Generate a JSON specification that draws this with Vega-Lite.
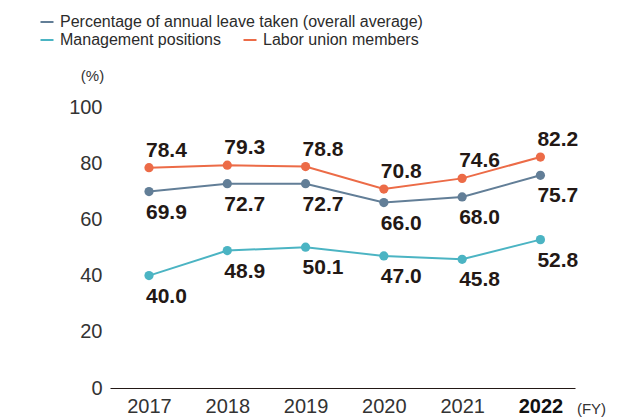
{
  "$schema": "https://vega.github.io/schema/vega-lite/v6.json",
  "autosize": "none",
  "padding": {"left": 110, "top": 107, "right": 51, "bottom": 30},
  "width": 465,
  "height": 281,
  "data": {
    "values": [
      {"year": "2017", "series": "Percentage of annual leave taken (overall average)", "value": 69.9},
      {"year": "2018", "series": "Percentage of annual leave taken (overall average)", "value": 72.7},
      {"year": "2019", "series": "Percentage of annual leave taken (overall average)", "value": 72.7},
      {"year": "2020", "series": "Percentage of annual leave taken (overall average)", "value": 66.0},
      {"year": "2021", "series": "Percentage of annual leave taken (overall average)", "value": 68.0},
      {"year": "2022", "series": "Percentage of annual leave taken (overall average)", "value": 75.7},
      {"year": "2017", "series": "Management positions", "value": 40.0},
      {"year": "2018", "series": "Management positions", "value": 48.9},
      {"year": "2019", "series": "Management positions", "value": 50.1},
      {"year": "2020", "series": "Management positions", "value": 47.0},
      {"year": "2021", "series": "Management positions", "value": 45.8},
      {"year": "2022", "series": "Management positions", "value": 52.8},
      {"year": "2017", "series": "Labor union members", "value": 78.4},
      {"year": "2018", "series": "Labor union members", "value": 79.3},
      {"year": "2019", "series": "Labor union members", "value": 78.8},
      {"year": "2020", "series": "Labor union members", "value": 70.8},
      {"year": "2021", "series": "Labor union members", "value": 74.6},
      {"year": "2022", "series": "Labor union members", "value": 82.2}
    ]
  },
  "encoding": {
    "x": {
      "field": "year",
      "type": "ordinal",
      "scale": {"type": "point", "padding": 0.47, "align": 0.53},
      "axis": {
        "labelAngle": 0,
        "ticks": false,
        "grid": false,
        "domain": true,
        "domainColor": "#231815",
        "domainWidth": 1.2,
        "labelFontSize": 20,
        "labelPadding": 8,
        "labelColor": {"condition": {"test": "datum.value == '2022'", "value": "#111111"}, "value": "#333333"},
        "labelFontWeight": {"condition": {"test": "datum.value == '2022'", "value": "bold"}, "value": "normal"},
        "title": "(FY)",
        "titleX": 481,
        "titleY": 20,
        "titleAlign": "center",
        "titleBaseline": "middle",
        "titleFontSize": 15,
        "titleFontWeight": "normal",
        "titleColor": "#333333"
      }
    },
    "y": {
      "field": "value",
      "type": "quantitative",
      "scale": {"domain": [0, 100]},
      "axis": {
        "values": [0, 20, 40, 60, 80, 100],
        "domain": false,
        "ticks": false,
        "grid": false,
        "labelFontSize": 20,
        "labelPadding": 8,
        "labelColor": "#333333",
        "title": "(%)",
        "titleAngle": 0,
        "titleX": -18,
        "titleY": -32,
        "titleAlign": "center",
        "titleBaseline": "middle",
        "titleFontSize": 15,
        "titleFontWeight": "normal",
        "titleColor": "#333333"
      }
    }
  },
  "layer": [
    {
      "transform": [{"filter": "datum.series === 'Percentage of annual leave taken (overall average)'"}],
      "encoding": {
        "color": {
          "field": "series",
          "type": "nominal",
          "scale": {"domain": ["Percentage of annual leave taken (overall average)"], "range": ["#627E97"]},
          "legend": {"orient": "none", "legendX": -71, "legendY": -93}
        }
      },
      "layer": [
        {"mark": {"type": "line", "strokeWidth": 2}},
        {"mark": {"type": "point", "filled": true, "size": 85, "opacity": 1}}
      ]
    },
    {
      "transform": [{"filter": "datum.series !== 'Percentage of annual leave taken (overall average)'"}],
      "encoding": {
        "color": {
          "field": "series",
          "type": "nominal",
          "scale": {"domain": ["Management positions", "Labor union members"], "range": ["#4BB4C3", "#EC6B47"]},
          "legend": {"orient": "none", "direction": "horizontal", "legendX": -71, "legendY": -75}
        }
      },
      "layer": [
        {"mark": {"type": "line", "strokeWidth": 2}},
        {"mark": {"type": "point", "filled": true, "size": 85, "opacity": 1}}
      ]
    },
    {
      "transform": [{"filter": "datum.series === 'Labor union members'"}],
      "mark": {"type": "text", "align": "left", "baseline": "alphabetic", "dx": -3, "dy": -11, "fontSize": 21, "fontWeight": "bold", "color": "#231815"},
      "encoding": {"text": {"field": "value", "type": "quantitative", "format": ".1f"}}
    },
    {
      "transform": [{"filter": "datum.series !== 'Labor union members'"}],
      "mark": {"type": "text", "align": "left", "baseline": "alphabetic", "dx": -3, "dy": 27, "fontSize": 21, "fontWeight": "bold", "color": "#231815"},
      "encoding": {"text": {"field": "value", "type": "quantitative", "format": ".1f"}}
    }
  ],
  "resolve": {"scale": {"color": "independent"}},
  "config": {
    "font": "Liberation Sans",
    "view": {"stroke": null},
    "legend": {
      "title": null,
      "symbolType": "stroke",
      "symbolStrokeWidth": 2,
      "symbolSize": 169,
      "labelFontSize": 16,
      "labelColor": "#2b2b2b",
      "labelOffset": 5,
      "padding": 0,
      "rowPadding": 0,
      "columnPadding": 18,
      "labelLimit": 500
    }
  }
}
